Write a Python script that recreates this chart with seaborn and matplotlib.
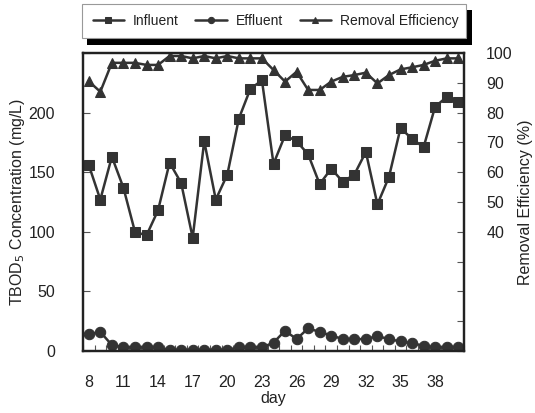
import matplotlib
matplotlib.use("Agg")
import matplotlib.pyplot as plt
import seaborn as sns
import pandas as pd
import numpy as np
from matplotlib.patches import Rectangle
from matplotlib.ticker import FixedLocator

days = list(range(8, 41))
influent = [156, 127, 163, 137, 100, 97, 118, 158, 141, 95, 176, 127, 148, 195, 220, 227,
            157, 181, 176, 165, 140, 153, 142, 148, 167, 123, 146, 187, 178, 171, 205, 213, 209]
effluent = [14, 16, 5, 3, 3, 3, 3, 1, 1, 1, 1, 1, 1, 3, 3, 3,
            7, 17, 10, 19, 16, 13, 10, 10, 10, 12.5, 10, 8, 6.5, 4.5, 3, 3, 3]
removal = [90.5, 87, 96.7, 96.7, 96.7, 96, 96, 99, 99, 98.2, 99, 98.2, 99, 98.2, 98.2, 98.2,
           94.3, 90.4, 93.7, 87.6, 87.6, 90.4, 92, 92.6, 93.4, 89.8, 92.6, 94.5, 95.2, 96, 97.4, 98.2, 98.2]
xticks = [8, 11, 14, 17, 20, 23, 26, 29, 32, 35, 38]

df = pd.DataFrame({"day": days, "Influent": influent, "Effluent": effluent, "Removal": removal})

sns.set_theme(style="white")
plt.rcParams['font.family'] = ['Liberation Sans', 'DejaVu Sans']

fig = plt.figure(figsize=(5.35, 4.13), dpi=100)
ax = fig.add_axes([83/535, 1-351/413, (464-83)/535, (351-53)/413])
ax2 = ax.twinx()

col = "#333333"
sns.lineplot(data=df, x="day", y="Influent", ax=ax, color=col, marker="s", markersize=7,
             linewidth=1.8, markeredgecolor=col, label="Influent", legend=False)
sns.lineplot(data=df, x="day", y="Effluent", ax=ax, color=col, marker="o", markersize=7.5,
             linewidth=1.8, markeredgecolor=col, label="Effluent", legend=False)
sns.lineplot(data=df, x="day", y="Removal", ax=ax2, color=col, marker="^", markersize=7.5,
             linewidth=1.8, markeredgecolor=col, label="Removal Efficiency", legend=False)

ax.set_xlim(7.5, 40.5)
ax.set_ylim(0, 250)
ax2.set_ylim(0, 100)

ax.set_xticks(xticks)
ax.set_xticklabels([str(t) for t in xticks])
ax.xaxis.set_minor_locator(FixedLocator(np.arange(7.5, 41, 1)))
ax.tick_params(axis='x', which='major', length=0, pad=17, labelsize=11.5, colors='#222222')
ax.tick_params(axis='x', which='minor', direction='in', length=4, width=0.8, color='#555555', bottom=True)

ax.set_yticks([0, 50, 100, 150, 200, 250])
ax.set_yticklabels(["0", "50", "100", "150", "200", ""])
ax.tick_params(axis='y', direction='in', length=5, width=0.8, color='#555555', left=True,
               pad=20, labelsize=11.5, labelcolor='#222222')

ax2.set_yticks(np.arange(0, 101, 10))
ax2.set_yticklabels([str(v) if v >= 40 else "" for v in range(0, 101, 10)])
ax2.tick_params(axis='y', direction='in', length=5, width=0.8, color='#555555', right=True,
                pad=16, labelsize=11.5, labelcolor='#222222')

ax.set_xlabel("day", fontsize=11.5, labelpad=1, color='#222222')
ax.set_ylabel("TBOD$_5$ Concentration (mg/L)", fontsize=11.5, labelpad=1, color='#222222')
ax2.set_ylabel("Removal Efficiency (%)", fontsize=11.5, labelpad=4, color='#222222', rotation=90)

for a in (ax, ax2):
    for s in a.spines.values():
        s.set_color('#222222')
        s.set_linewidth(1.6)
ax.set_facecolor('none')
ax2.grid(False)
ax.grid(False)

# legend box with shadow
fig.patches.append(Rectangle((87/535, 1-45/413), (472-87)/535, (45-10)/413,
                             transform=fig.transFigure, facecolor='black', edgecolor='none', zorder=1))
fig.patches.append(Rectangle((82/535, 1-38/413), (466-82)/535, (38-4)/413,
                             transform=fig.transFigure, facecolor='white', edgecolor='#999999',
                             linewidth=0.8, zorder=2))
h1, l1 = ax.get_legend_handles_labels()
h2, l2 = ax2.get_legend_handles_labels()
leg = fig.legend(h1 + h2, l1 + l2, loc='center left', bbox_to_anchor=(80/535, 1-21/413),
                 ncol=3, frameon=False, fontsize=10, handlelength=2.3, columnspacing=1.2,
                 handletextpad=0.6, markerscale=0.6)
for t in leg.get_texts():
    t.set_color('#222222')
leg.set_zorder(3)

fig.savefig("out.png", dpi=100)
